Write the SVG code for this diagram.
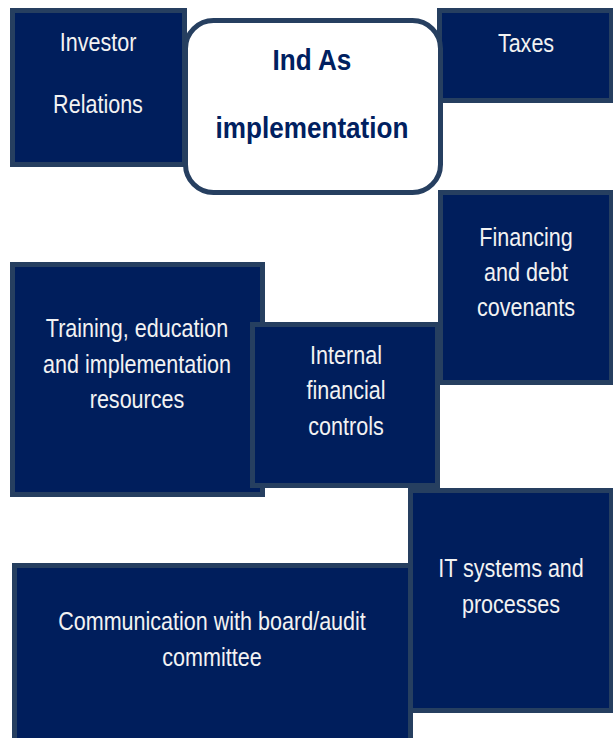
<svg xmlns="http://www.w3.org/2000/svg" width="613" height="738" viewBox="0 0 613 738">
<style>
.box{fill:#001E5C;stroke:#263F60;stroke-width:5}
.hub{fill:#FFFFFF;stroke:#263F60;stroke-width:5}
.t{font-family:"Liberation Sans",Arial,sans-serif;font-size:25.5px;fill:#F2F2F2;text-anchor:middle}
.h{font-family:"Liberation Sans",Arial,sans-serif;font-size:29px;font-weight:bold;fill:#002060;text-anchor:middle}
</style>
<rect width="613" height="738" fill="#FFFFFF"/>
<g id="connectors"></g>
<g id="investor">
<rect class="box" x="12.5" y="10.5" width="172" height="154"/>
<text class="t" transform="translate(98 51) scale(0.845 1)">Investor</text>
<text class="t" transform="translate(98 113) scale(0.845 1)">Relations</text>
</g>
<g id="taxes">
<rect class="box" x="439.5" y="10.5" width="172" height="90"/>
<text class="t" transform="translate(526 52) scale(0.845 1)">Taxes</text>
</g>
<g id="financing">
<rect class="box" x="440.5" y="192.5" width="171" height="190"/>
<text class="t" transform="translate(526 246) scale(0.845 1)">Financing</text>
<text class="t" transform="translate(526 281) scale(0.845 1)">and debt</text>
<text class="t" transform="translate(526 316) scale(0.845 1)">covenants</text>
</g>
<g id="training">
<rect class="box" x="12.5" y="264.5" width="250" height="230"/>
<text class="t" transform="translate(137 337) scale(0.845 1)">Training, education</text>
<text class="t" transform="translate(137 373) scale(0.845 1)">and implementation</text>
<text class="t" transform="translate(137 408) scale(0.845 1)">resources</text>
</g>
<g id="internal">
<rect class="box" x="252.5" y="324.5" width="185" height="161"/>
<text class="t" transform="translate(346 364) scale(0.845 1)">Internal</text>
<text class="t" transform="translate(346 399) scale(0.845 1)">financial</text>
<text class="t" transform="translate(346 435) scale(0.845 1)">controls</text>
</g>
<g id="communication">
<rect class="box" x="14.5" y="565.5" width="396" height="180"/>
<text class="t" transform="translate(212 630) scale(0.845 1)">Communication with board/audit</text>
<text class="t" transform="translate(212 666) scale(0.845 1)">committee</text>
</g>
<g id="it">
<rect class="box" x="410.5" y="490.5" width="201" height="220"/>
<text class="t" transform="translate(511 577) scale(0.845 1)">IT systems and</text>
<text class="t" transform="translate(511 613) scale(0.845 1)">processes</text>
</g>
<g id="hub">
<rect class="hub" x="185.5" y="20.5" width="255" height="172" rx="28"/>
<text class="h" transform="translate(312 70) scale(0.9 1)">Ind As</text>
<text class="h" transform="translate(312 138) scale(0.9 1)">implementation</text>
</g>
</svg>
